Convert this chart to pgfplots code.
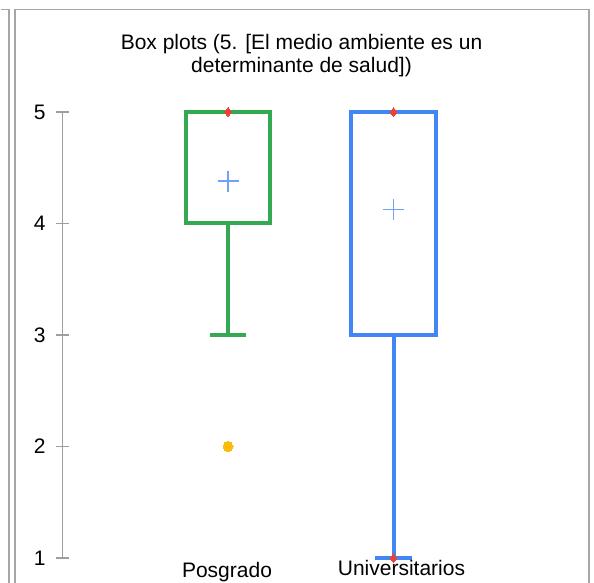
\documentclass[border=0pt]{standalone}
\usepackage{pgfplots}
\pgfplotsset{compat=1.18}
\usepgfplotslibrary{statistics}
\usepackage{fontspec}
\setmainfont{Liberation Sans}
\definecolor{gframe}{HTML}{A6A6A6}
\definecolor{gaxis}{HTML}{9E9E9E}
\definecolor{ggreen}{HTML}{34A853}
\definecolor{gblue}{HTML}{4285F4}
\definecolor{gbluelight}{HTML}{6FA2F6}
\definecolor{gred}{HTML}{EA4335}
\definecolor{gyellow}{HTML}{FBBC04}
\newcommand{\ff}{\fontsize{21bp}{25bp}\selectfont}
\begin{document}
\begin{tikzpicture}
\path[use as bounding box] (0,0) rectangle (594bp,583bp);
% frames
\draw[gframe, line width=1.6bp] (1bp,573.5bp) -- (9bp,573.5bp) -- (9bp,0);
\draw[gframe, line width=1.6bp] (15bp,0) -- (15bp,573.5bp) -- (588.8bp,573.5bp) -- (588.8bp,0);
% title
\node[anchor=base, inner sep=0] at (301.5bp,533bp) {\ff Box plots (5. [El medio ambiente es un};
\node[anchor=base, inner sep=0] at (301.5bp,510bp) {\ff determinante de salud])};
\begin{axis}[
  at={(62.5bp,25bp)}, anchor=south west,
  scale only axis, width=496.5bp, height=446bp,
  xmin=0, xmax=3, ymin=1, ymax=5, clip=false,
  axis x line=none, axis y line=left,
  axis line style={gaxis, line width=1.3bp, -},
  ytick={1,2,3,4,5},
  tick align=center, major tick length=13bp,
  ytick style={gaxis, line width=1.3bp},
  yticklabel style={font=\ff, anchor=east, xshift=-7bp},
  /pgf/number format/assume math mode=true,
  boxplot/draw direction=y,
]
\addplot[ggreen, line width=4bp, solid,
  boxplot prepared={lower whisker=3, lower quartile=4, median=5,
    upper quartile=5, upper whisker=5, draw position=1,
    box extend=0.51, whisker extend=0.22}] coordinates {};
\addplot[gblue, line width=4bp, solid,
  boxplot prepared={lower whisker=1, lower quartile=3, median=5,
    upper quartile=5, upper whisker=5, draw position=2,
    box extend=0.51, whisker extend=0.22}] coordinates {};
% outlier
\addplot[gyellow, only marks, mark=*, mark size=5bp, mark options={fill=gyellow, draw=gyellow, line width=0pt}] coordinates {(1,2)};
% min / max
\addplot[gred, only marks, mark=diamond*, mark size=4.5bp, mark options={fill=gred, draw=gred, line width=0pt}] coordinates {(1,5) (2,5) (2,1)};
% means
\addplot[gbluelight, only marks, mark=+, mark size=10.5bp, mark options={draw=gbluelight, line width=1.5bp}] coordinates {(1,4.38)};
\addplot[gbluelight, only marks, mark=+, mark size=10.5bp, mark options={draw=gbluelight, line width=1.5bp}] coordinates {(2,4.127)};
\node[anchor=base, inner sep=0, xshift=-1bp] at (axis cs:1,1) [yshift=-19bp] {\ff Posgrado};
\node[anchor=base, inner sep=0, xshift=8bp] at (axis cs:2,1) [yshift=-17bp] {\ff Universitarios};
\end{axis}
\end{tikzpicture}
\end{document}
